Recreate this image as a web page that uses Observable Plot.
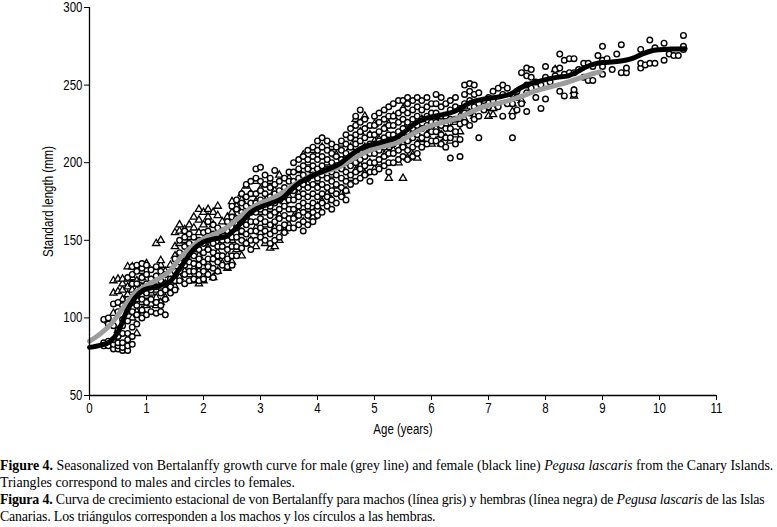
<!DOCTYPE html>
<html>
<head>
<meta charset="utf-8">
<script src="https://cdn.jsdelivr.net/npm/d3@7"></script>
<script src="https://cdn.jsdelivr.net/npm/@observablehq/plot@0.6"></script>
<style>
  html, body { margin: 0; padding: 0; background: #fff; overflow: hidden; }
  #chart svg { display: block; }
  #caption { font-family: "Liberation Serif", "Times New Roman", serif; font-size: 13.9px; line-height: 17px; color: #000; margin: 17px 0 0 0; width: 777px; white-space: nowrap; }
  #caption p { margin: 0; }
  #caption p.es { letter-spacing: -0.17px; }
</style>
</head>
<body>
<div id="chart"></div>
<div id="caption">
  <p><b>Figure 4.</b> Seasonalized von Bertalanffy growth curve for male (grey line) and female (black line) <i>Pegusa lascaris</i> from the Canary Islands.<br>Triangles correspond to males and circles to females.</p>
  <p class="es"><b>Figura 4.</b> Curva de crecimiento estacional de von Bertalanffy para machos (línea gris) y hembras (línea negra) de <i>Pegusa lascaris</i> de las Islas<br>Canarias. Los triángulos corresponden a los machos y los círculos a las hembras.</p>
</div>
<script>
// ---- Data ----
const xTicks = [0,1,2,3,4,5,6,7,8,9,10,11];
const yTicks = [50,100,150,200,250,300];

// Female observations (circles): ages and the lengths observed at each age
const femaleAge = [0.25,0.33,0.42,0.5,0.58,0.67,0.75,0.83,0.92,1.0,
  1.08,1.17,1.25,1.33,1.42,1.5,1.58,1.67,1.75,1.83,1.92,2.0,
  2.08,2.17,2.25,2.33,2.42,2.5,2.58,2.67,2.75,2.83,2.92,3.0,
  3.08,3.17,3.25,3.33,3.42,3.5,3.58,3.67,3.75,3.83,3.92,4.0,
  4.08,4.17,4.25,4.33,4.42,4.5,4.58,4.67,4.75,4.83,4.92,5.0,
  5.08,5.17,5.25,5.33,5.42,5.5,5.58,5.67,5.75,5.83,5.92,6.0,
  6.08,6.17,6.25,6.33,6.42,6.5,6.58,6.67,6.75,6.83,6.92,7.0,
  7.08,7.17,7.25,7.33,7.42,7.5,7.58,7.67,7.75,7.83,7.92,8.0,
  8.08,8.17,8.25,8.33,8.42,8.5,8.58,8.67,8.75,8.83,8.92,9.0,
  9.08,9.17,9.25,9.33,9.42,9.67,9.75,9.83,9.92,10.08,10.17,10.25,10.33,10.42];
const femaleLen = [
  [99,84,82],[82,85,100,96],[80,83,86,109,95],[80,82,84,88,92,110,104],
  [79,81,84,90,95,108,99],[79,82,86,90,98,106,112,126],[83,88,94,104,110,122,128,133],
  [96,102,108,115,122,130,134],[100,105,112,118,126,132,135],[102,110,116,122,128,134],
  [104,112,118,125,131],[103,110,120,127,133],[104,108,116,124,130],[102,112,118,122,128],
  [116,120,125],[118,124,130,138],
  [124,130,136,142,150],[122,128,134,140,146,152,156],[124,130,136,142,148,154],
  [125,130,135,140,146,152],[124,128,134,138,144,150],[125,130,136,142,148,155],
  [128,133,138,144,150,156,162],[126,132,138,142,148,154,160],[130,136,140,146,152,158],
  [134,140,146,150,156],[133,138,144,150,156,162],[134,140,146,152,158,165,172],
  [140,146,152,158,164,170,176],[145,150,156,162,168,174,180],[148,154,160,166,172,178,186],
  [144,150,156,162,168,174,180,188],[150,156,162,168,174,180,190,196],[152,158,164,170,176,182,188,197],
  [150,156,162,168,174,180,186,192],[148,154,160,166,172,178,184,190],[150,156,162,168,174,180,186,195],
  [152,158,164,170,176,182,188],[155,160,166,172,178,184,190],[158,164,170,176,182,188,194],
  [158,164,170,176,182,188,194,200],[160,166,172,178,184,190,196,202],[156,162,168,174,180,186,192,198,204],
  [160,166,172,178,184,190,196,202,208],[162,168,174,180,186,192,198,204,210],[166,172,178,184,190,196,202,208,214],
  [168,174,180,186,192,198,204,210,216],[172,178,184,190,196,202,208,214],[170,176,182,188,194,200,206,212],
  [174,180,186,192,198,204,210],[178,184,190,196,202,208,214],[176,182,188,194,200,206,212,218],
  [186,192,198,204,210,216,222],[188,194,200,206,212,218,224,230],[190,196,202,208,214,220,226,234],
  [192,198,204,210,216,222,228],[188,194,200,206,212,218,224],[194,200,206,212,218,224,230],
  [196,202,208,214,220,226,232],[198,204,210,216,222,228,234],[194,200,206,212,218,224,230,236],
  [200,206,212,218,224,230,238],[202,208,214,220,226,232,240],[204,210,216,222,228,234,240],
  [202,208,214,220,226,232,238,242],[204,210,216,222,228,234,240],[206,212,218,224,230,236,242],
  [210,216,222,228,234,240],[212,218,224,230,236,242],[214,220,226,232,238],
  [214,220,226,232,238,244],[212,218,224,230,236,242],[210,216,222,230,238],
  [203,216,222,228,234,240],[212,220,228,236,242],[204,215,225,235],
  [226,232,238,244,250],[224,232,240,246,251],[228,236,244,250],
  [216,230,238,245],[234,240],[236,242],
  [240,246],[236,248],[230,244,250],[238,248],[216,230,238,244],[234,242,246],
  [238,258],[233,245,250,256,261],[248,255,260],[242,252],[235,250],[241,255,262],
  [252],[256,260],[246,261,270],[243,257,266],[258,267],[244,247,258,267],
  [260],[255,264],[253,264],[253,262],[269],[257,262,266,275],
  [267],[260],[270],[258,276],[258,261],[261,264,273],[263],[264,279],[264,274],
  [266,277],[270],[269],[269],[273,275,282]
];

// Male observations (triangles)
const maleAge = [0.33,0.42,0.5,0.58,0.67,0.75,0.83,0.92,1.0,
  1.08,1.17,1.25,1.33,1.42,1.5,1.58,1.67,1.75,1.83,1.92,2.0,
  2.08,2.17,2.25,2.33,2.42,2.5,2.58,2.67,2.75,2.83,2.92,3.0,
  3.08,3.17,3.25,3.33,3.42,3.5,3.58,3.67,3.75,3.83,3.92,4.0,
  4.08,4.17,4.25,4.33,4.42,4.5,4.58,4.67,4.75,4.83,4.92,5.0,
  5.08,5.17,5.25,5.33,5.42,5.5,5.58,5.67,5.75,5.83,5.92,6.0,
  6.08,6.17,6.25,6.33,6.42,6.5,6.58,6.67,6.75,7.0,7.08,7.42,7.58,8.17,8.5];
const maleLen = [
  [98],[124,116,103],[125,117,92],[112,118,122,125],[104,115,120,125,133],
  [100,110,118,122,126,133],[90,104,112,118,124],[105,110,115,120,126,130],[108,114,120,135],
  [109,116,124],[108,113,118,126,148],[110,120,128,134,137,150],[113,122,130],[118,124,134],[120,126,140,146,155],
  [126,138,148,156,160],[130,140,150,157],[128,136,146,152,160],[124,132,144,158,165],[122,130,140,155,163,170],[124,150,160,168],
  [128,135,145,165,170],[126,138,160,168],[130,142,155,166,172],[135,150,162],[132,140,158,165],[136,150,168,175],
  [144,160,172],[140,155,176,180],[148,165,185],[150,170,180],[146,158,175,188],[155,168,183],
  [148,160,175],[145,170,188],[146,158,182],[150,166,192],[156,175],[160,178,190],
  [165,185],[168,180,195],[162,190,205],[170,186,200],[165,195,208],[172,188,205],
  [175,195,210],[180,200],[176,192,210],[185,205],[180,198,212],[182,204],
  [190,210],[195,215,228],[198,220],[193,210,230],[200,218],[196,214,225],
  [200,215],[205,222],[190,210,225],[208,230],[200,215],[190,212,235],
  [203,215,225],[205,220],[203,212],[215,228],[218],[212,222],
  [214,222,230],[212,218,228],[216,225],[214,222],[218,226],[220,230],
  [228,236],[232],[230],[230,235],[231,235],[233,238],[240],[260],[243,246]
];

// Fitted growth curves
const femaleCurveAge = [0,0.2,0.35,0.5,0.65,0.8,0.95,1.1,1.25,1.4,1.55,1.7,1.85,2.0,2.2,2.4,2.55,2.7,2.85,3.0,3.2,3.4,3.55,3.7,3.85,4.0,4.2,4.4,4.55,4.7,4.85,5.0,5.2,5.4,5.55,5.7,5.85,6.0,6.2,6.4,6.55,6.7,6.85,7.0,7.2,7.4,7.55,7.7,7.85,8.0,8.2,8.4,8.55,8.7,8.85,9.0,9.2,9.4,9.55,9.7,9.85,10.0,10.2,10.45];
const femaleCurveLen = [81,82.5,84.5,91,104,113,118,119.5,121,123,130,138,145,149,151,152.5,157,163,168.5,171.5,174,177.5,183,187.5,190.5,193,196,199.5,204,208,210.5,212,214,216.5,220.5,225,228,229.5,231,233,236,239,240.5,241.5,242.5,244.5,248,250.5,252,253.5,255,256,258.5,261.5,263.5,264.5,265,266,267.5,270,272,272.8,273.2,273.5];
const maleCurveAge = [0,0.2,0.4,0.6,0.8,1.0,1.2,1.4,1.6,1.8,2.0,2.2,2.4,2.6,2.8,3.0,3.2,3.4,3.6,3.8,4.0,4.2,4.4,4.6,4.8,5.0,5.2,5.4,5.6,5.8,6.0,6.2,6.4,6.6,6.8,7.0,7.2,7.4,7.6,7.8,8.0,8.2,8.4,8.6,8.8,8.96];
const maleCurveLen = [85,90,97,107,116,121,125,130,139,146,151,154,158,164,170,174,177,181,186,190,193,195,197.5,202,206,209,211,213,217,221,224,226,228,231,234.5,237,238.5,240.5,243,246,248,250,252,254.5,257,258.5];

// ---- Build tables ----
const females = femaleAge.flatMap((a, i) => femaleLen[i].map(l => ({age: a, len: l})));
const males = maleAge.flatMap((a, i) => maleLen[i].map(l => ({age: a, len: l})));
const femaleCurve = femaleCurveAge.map((a, i) => ({age: a, len: femaleCurveLen[i]}));
const maleCurve = maleCurveAge.map((a, i) => ({age: a, len: maleCurveLen[i]}));

const font = '"Liberation Sans", Arial, sans-serif';

const chart = Plot.plot({
  width: 777,
  height: 440,
  marginLeft: 89,
  marginRight: 61,
  marginTop: 7,
  marginBottom: 45,
  style: {fontFamily: font, fontSize: "14px", color: "#000", background: "#fff"},
  x: {domain: [0, 11], ticks: xTicks},
  y: {domain: [50, 300], ticks: yTicks},
  marks: [
    Plot.axisX({ticks: xTicks, tickSize: 5, tickPadding: 3, tickFormat: d => d, label: "Age (years)", labelAnchor: "center", labelArrow: "none", labelOffset: 38, fontSize: 14}),
    Plot.axisY({ticks: yTicks, tickSize: 5, tickPadding: 2, tickFormat: d => d, label: "Standard length (mm)", labelAnchor: "center", labelArrow: "none", labelOffset: 46, fontSize: 14}),
    Plot.dot(males, {x: "age", y: "len", symbol: "triangle", r: 2.7, fill: "#fff", stroke: "#000", strokeWidth: 1.3}),
    Plot.dot(females, {x: "age", y: "len", symbol: "circle", r: 2.8, fill: "#fff", stroke: "#000", strokeWidth: 1.4}),
    Plot.line(maleCurve, {x: "age", y: "len", stroke: "#9c9c9c", strokeWidth: 5, curve: "monotone-x"}),
    Plot.line(femaleCurve, {x: "age", y: "len", stroke: "#000", strokeWidth: 5, curve: "monotone-x"}),
    Plot.ruleX([0], {stroke: "#000", strokeWidth: 1.3}),
    Plot.ruleY([50], {stroke: "#000", strokeWidth: 1.3})
  ]
});
// Narrow the axis typography (the original uses a condensed sans face)
chart.querySelectorAll('g[aria-label^="x-axis"] text, g[aria-label^="y-axis"] text').forEach(t => {
  const tr = t.getAttribute("transform") || "";
  t.setAttribute("transform", tr + " scale(0.82,1)");
});
document.getElementById("chart").appendChild(chart);
</script>
</body>
</html>
